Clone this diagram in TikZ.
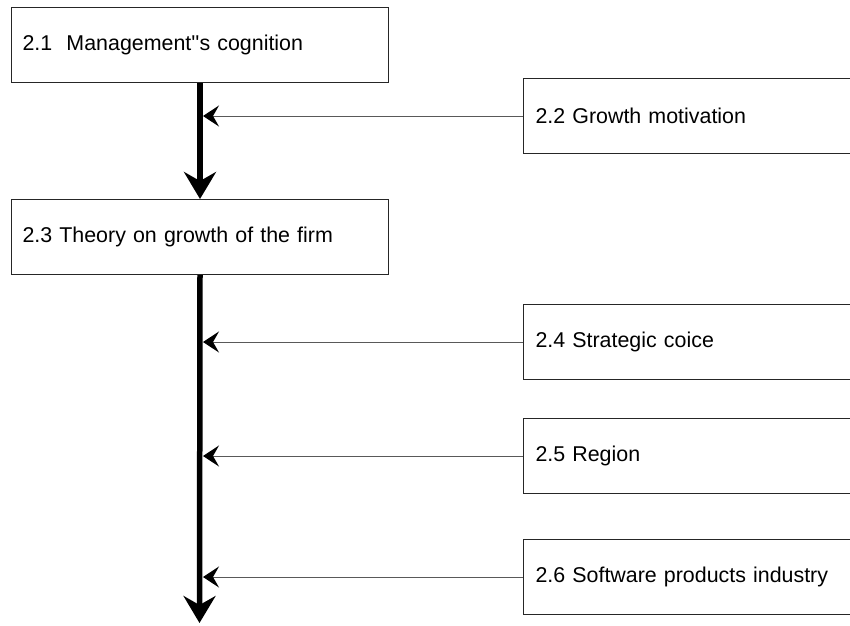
\documentclass[tikz,border=0pt]{standalone}
\usepackage{fontspec}
\setmainfont{Liberation Sans}
\usetikzlibrary{arrows.meta}
\begin{document}
\begin{tikzpicture}[x=1pt,y=-1pt,
  leftbox/.style={draw=black!85, line width=1pt, anchor=north west,
    minimum width=377pt, minimum height=75pt, text width=355pt,
    inner xsep=11pt, inner ysep=0pt, align=left,
    font=\fontsize{21.4}{24}\selectfont},
  rightbox/.style={draw=black!85, line width=1pt, anchor=north west,
    minimum width=360pt, minimum height=75pt, text width=348pt,
    inner xsep=12pt, inner ysep=0pt, align=left,
    font=\fontsize{21.4}{24}\selectfont},
  mainarrow/.style={line width=5.5pt, -{Stealth[length=27pt, width=32pt, inset=9pt]}},
  feed/.style={draw=black!65, line width=1pt, -{Stealth[length=16pt, width=21pt, inset=6pt, fill=black, color=black]}}
]
\useasboundingbox (0,0) rectangle (850,625);
\clip (0,0) rectangle (850,625);
\fill[white] (0,0) rectangle (850,625);

\node[leftbox] (b21) at (11,7) {2.1\ \ Management\textquotesingle\textquotesingle s cognition};
\node[leftbox] (b23) at (11,199) {2.3 Theory on growth of the firm};

\node[rightbox] (b22) at (523,78) {2.2 Growth motivation};
\node[rightbox] (b24) at (523,304) {2.4 Strategic coice};
\node[rightbox] (b25) at (523,418) {2.5 Region};
\node[rightbox] (b26) at (523,539) {2.6 Software products industry};

\coordinate (end) at (199.5,623);
\coordinate (rail) at (203,0);

\draw[mainarrow] (b21.south) -- (b23.north);
\draw[mainarrow] (b23.south) -- (end);

\draw[feed] (b22.west) -- (rail |- b22.west);
\draw[feed] (b24.west) -- (rail |- b24.west);
\draw[feed] (b25.west) -- (rail |- b25.west);
\draw[feed] (b26.west) -- (rail |- b26.west);
\end{tikzpicture}
\end{document}
